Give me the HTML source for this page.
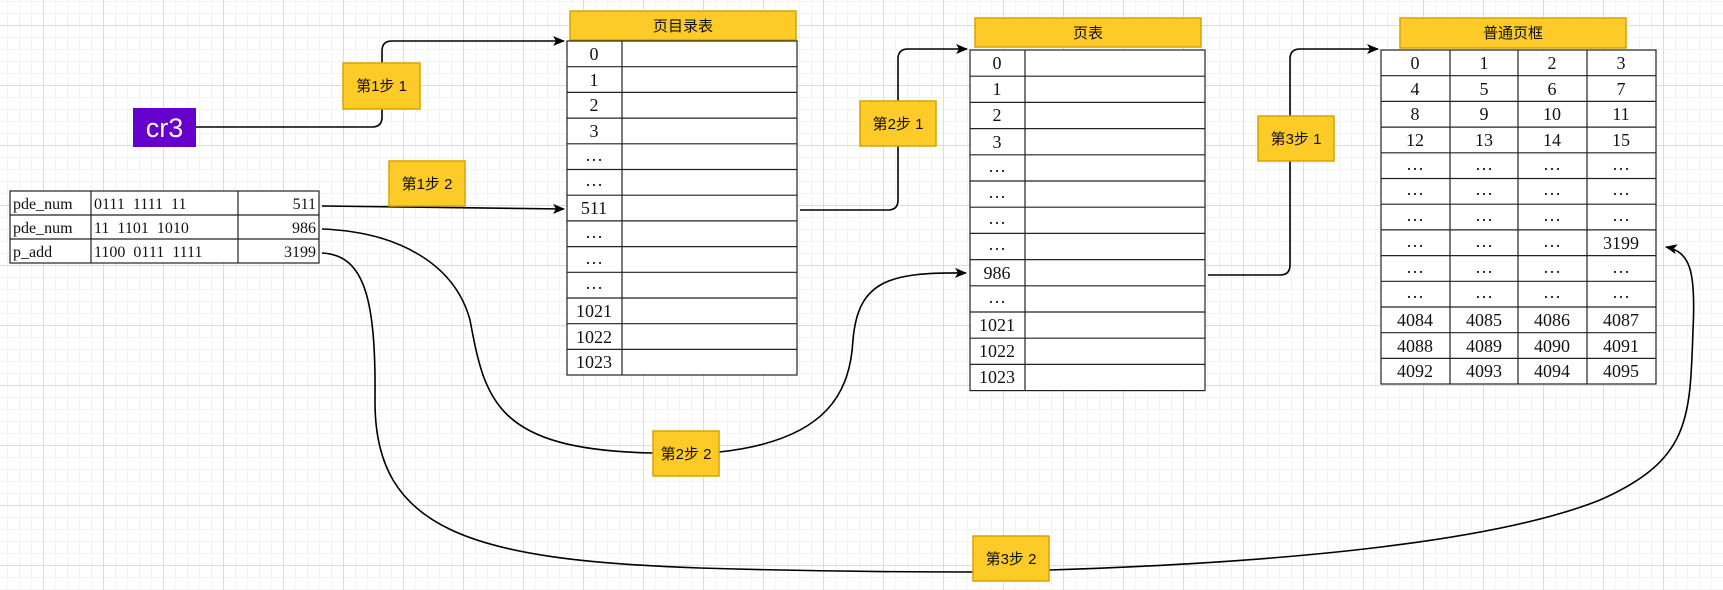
<!DOCTYPE html>
<html><head><meta charset="utf-8">
<style>
html,body{margin:0;padding:0;}
body{width:1723px;height:590px;overflow:hidden;background-color:#fff;
background-image:
linear-gradient(to right,#dcdcdc 1px,transparent 1px),
linear-gradient(to bottom,#dcdcdc 1px,transparent 1px),
linear-gradient(to right,#f3f3f3 1px,transparent 1px),
linear-gradient(to bottom,#f3f3f3 1px,transparent 1px);
background-size:60px 60px,60px 60px,12px 12px,12px 12px;
background-position:43px 25px,43px 25px,43px 25px,43px 25px;}
svg{position:absolute;left:0;top:0;}
.n{font-family:"Liberation Serif",serif;font-size:18px;fill:#111;text-anchor:middle;}
.l{font-family:"Liberation Serif",serif;font-size:16px;fill:#111;white-space:pre;}
.c{font-family:"Liberation Sans","Noto Sans CJK SC",sans-serif;font-size:15px;fill:#111;text-anchor:middle;}
.y{fill:#fdcb28;stroke:#d8a300;stroke-width:1.5;}
.t{fill:#fff;stroke:#222;stroke-width:1.2;}
.g{stroke:#222;stroke-width:1.2;fill:none;}
.w{stroke:#000;stroke-width:1.6;fill:none;}
</style></head><body>
<svg width="1723" height="590" viewBox="0 0 1723 590">
<defs><marker id="a" markerWidth="12" markerHeight="10" refX="11" refY="5" orient="auto" markerUnits="userSpaceOnUse"><path d="M0,0 L12,5 L0,10 L3,5 Z" fill="#000"/></marker></defs>

<path class="w" d="M196,127 H372 Q382,127 382,117 V51 Q382,41 392,41 H564" marker-end="url(#a)"/>
<path class="w" d="M322,206 L564,209" marker-end="url(#a)"/>
<path class="w" d="M800,210 H888 Q898,210 898,200 V59 Q898,49 908,49 H967" marker-end="url(#a)"/>
<path class="w" d="M1208,275 H1280 Q1290,275 1290,265 V59 Q1290,49 1300,49 H1378" marker-end="url(#a)"/>
<path class="w" d="M322,229 C400,232 455,265 470,320 C485,400 495,450 653,453"/>
<path class="w" d="M719,452 C830,440 850,390 853,340 C858,280 890,272 966,273" marker-end="url(#a)"/>
<path class="w" d="M322,253 C365,255 376,300 375,400 C374,530 470,560 700,568 C800,571 900,572 973,572"/>
<path class="w" d="M1049,570 C1300,562 1500,540 1600,500 C1690,460 1690,420 1693,330 C1696,270 1690,252 1666,247" marker-end="url(#a)"/>

<rect x="133" y="108" width="63" height="39" fill="#6600cc"/>
<text x="164.5" y="137" font-family="Liberation Sans,sans-serif" font-size="27" fill="#fff" text-anchor="middle">cr3</text>

<rect class="y" x="343" y="63" width="77" height="46"/><text class="c" x="381.5" y="91">第1步 1</text>
<rect class="y" x="389" y="161" width="76" height="45"/><text class="c" x="427" y="189">第1步 2</text>
<rect class="y" x="860" y="101" width="76" height="45"/><text class="c" x="898" y="129">第2步 1</text>
<rect class="y" x="1258" y="116" width="76" height="45"/><text class="c" x="1296" y="144">第3步 1</text>
<rect class="y" x="653" y="431" width="66" height="45"/><text class="c" x="686" y="459">第2步 2</text>
<rect class="y" x="973" y="536" width="76" height="45"/><text class="c" x="1011" y="564">第3步 2</text>

<rect class="t" x="10" y="191" width="309" height="72"/>
<path class="g" d="M10,215H319M10,239H319M91,191V263M238,191V263"/>
<text class="l" x="13" y="209">pde_num</text><text class="l" x="94" y="209">0111  1111  11</text><text class="l" x="316" y="209" text-anchor="end">511</text>
<text class="l" x="13" y="233">pde_num</text><text class="l" x="94" y="233">11  1101  1010</text><text class="l" x="316" y="233" text-anchor="end">986</text>
<text class="l" x="13" y="257">p_add</text><text class="l" x="94" y="257">1100  0111  1111</text><text class="l" x="316" y="257" text-anchor="end">3199</text>

<rect class="y" x="570" y="11" width="226" height="29"/><text class="c" x="683" y="31">页目录表</text>
<rect class="t" x="567" y="41" width="230" height="334"/>
<path class="g" d="M622,41V375M567,66.7H797M567,92.4H797M567,118.1H797M567,143.8H797M567,169.5H797M567,195.2H797M567,220.9H797M567,246.6H797M567,272.3H797M567,298H797M567,323.7H797M567,349.4H797"/>
<text class="n" x="594" y="60">0</text><text class="n" x="594" y="86">1</text><text class="n" x="594" y="111">2</text><text class="n" x="594" y="137">3</text><text class="n" x="594" y="161">…</text><text class="n" x="594" y="186">…</text><text class="n" x="594" y="214">511</text><text class="n" x="594" y="238">…</text><text class="n" x="594" y="264">…</text><text class="n" x="594" y="289">…</text><text class="n" x="594" y="317">1021</text><text class="n" x="594" y="343">1022</text><text class="n" x="594" y="368">1023</text>

<rect class="y" x="975" y="18" width="226" height="29"/><text class="c" x="1088" y="38">页表</text>
<rect class="t" x="970" y="50" width="235" height="340.6"/>
<path class="g" d="M1025,50V390.6M970,76.2H1205M970,102.4H1205M970,128.6H1205M970,154.8H1205M970,181H1205M970,207.2H1205M970,233.4H1205M970,259.6H1205M970,285.8H1205M970,312H1205M970,338.2H1205M970,364.4H1205"/>
<text class="n" x="997" y="69">0</text><text class="n" x="997" y="95">1</text><text class="n" x="997" y="121">2</text><text class="n" x="997" y="148">3</text><text class="n" x="997" y="172">…</text><text class="n" x="997" y="198">…</text><text class="n" x="997" y="224">…</text><text class="n" x="997" y="250">…</text><text class="n" x="997" y="279">986</text><text class="n" x="997" y="303">…</text><text class="n" x="997" y="331">1021</text><text class="n" x="997" y="357">1022</text><text class="n" x="997" y="383">1023</text>

<rect class="y" x="1400" y="18" width="226" height="30"/><text class="c" x="1513" y="38">普通页框</text>
<rect class="t" x="1381" y="50" width="275" height="334"/>
<path class="g" d="M1450,50V384M1518,50V384M1587,50V384M1381,75.7H1656M1381,101.4H1656M1381,127.1H1656M1381,152.8H1656M1381,178.5H1656M1381,204.2H1656M1381,229.9H1656M1381,255.6H1656M1381,281.3H1656M1381,307H1656M1381,332.7H1656M1381,358.4H1656"/>
<text class="n" x="1415" y="69">0</text><text class="n" x="1484" y="69">1</text><text class="n" x="1552" y="69">2</text><text class="n" x="1621" y="69">3</text>
<text class="n" x="1415" y="95">4</text><text class="n" x="1484" y="95">5</text><text class="n" x="1552" y="95">6</text><text class="n" x="1621" y="95">7</text>
<text class="n" x="1415" y="120">8</text><text class="n" x="1484" y="120">9</text><text class="n" x="1552" y="120">10</text><text class="n" x="1621" y="120">11</text>
<text class="n" x="1415" y="146">12</text><text class="n" x="1484" y="146">13</text><text class="n" x="1552" y="146">14</text><text class="n" x="1621" y="146">15</text>
<text class="n" x="1415" y="170">…</text><text class="n" x="1484" y="170">…</text><text class="n" x="1552" y="170">…</text><text class="n" x="1621" y="170">…</text>
<text class="n" x="1415" y="195">…</text><text class="n" x="1484" y="195">…</text><text class="n" x="1552" y="195">…</text><text class="n" x="1621" y="195">…</text>
<text class="n" x="1415" y="221">…</text><text class="n" x="1484" y="221">…</text><text class="n" x="1552" y="221">…</text><text class="n" x="1621" y="221">…</text>
<text class="n" x="1415" y="247">…</text><text class="n" x="1484" y="247">…</text><text class="n" x="1552" y="247">…</text><text class="n" x="1621" y="249">3199</text>
<text class="n" x="1415" y="273">…</text><text class="n" x="1484" y="273">…</text><text class="n" x="1552" y="273">…</text><text class="n" x="1621" y="273">…</text>
<text class="n" x="1415" y="298">…</text><text class="n" x="1484" y="298">…</text><text class="n" x="1552" y="298">…</text><text class="n" x="1621" y="298">…</text>
<text class="n" x="1415" y="326">4084</text><text class="n" x="1484" y="326">4085</text><text class="n" x="1552" y="326">4086</text><text class="n" x="1621" y="326">4087</text>
<text class="n" x="1415" y="352">4088</text><text class="n" x="1484" y="352">4089</text><text class="n" x="1552" y="352">4090</text><text class="n" x="1621" y="352">4091</text>
<text class="n" x="1415" y="377">4092</text><text class="n" x="1484" y="377">4093</text><text class="n" x="1552" y="377">4094</text><text class="n" x="1621" y="377">4095</text>
</svg>
</body></html>
